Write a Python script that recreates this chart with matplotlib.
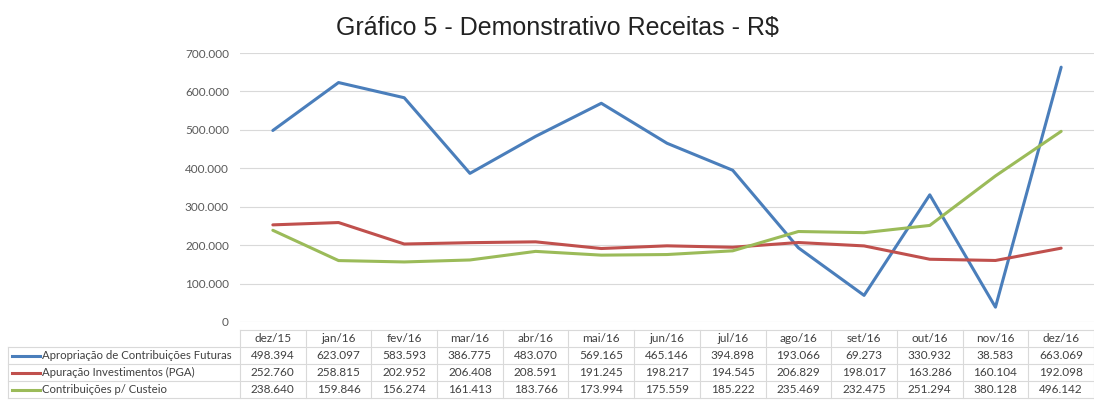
import matplotlib
matplotlib.use("Agg")
import matplotlib.pyplot as plt
from matplotlib.transforms import blended_transform_factory
from matplotlib.lines import Line2D

months = ["dez/15", "jan/16", "fev/16", "mar/16", "abr/16", "mai/16", "jun/16",
          "jul/16", "ago/16", "set/16", "out/16", "nov/16", "dez/16"]
apropriacao = [498394, 623097, 583593, 386775, 483070, 569165, 465146,
               394898, 193066, 69273, 330932, 38583, 663069]
apuracao = [252760, 258815, 202952, 206408, 208591, 191245, 198217,
            194545, 206829, 198017, 163286, 160104, 192098]
contribuicoes = [238640, 159846, 156274, 161413, 183766, 173994, 175559,
                 185222, 235469, 232475, 251294, 380128, 496142]
series_names = ["Apropriação de Contribuições Futuras",
                "Apuração Investimentos (PGA)",
                "Contribuições p/ Custeio"]
series_values = [apropriacao, apuracao, contribuicoes]
colors = ["#4A7EBB", "#C0504D", "#9BBB59"]
yticks = [0, 100000, 200000, 300000, 400000, 500000, 600000, 700000]

def fmt(v):
    return f"{v:,}".replace(",", ".")

W, H = 1094, 400
fig = plt.figure(figsize=(W / 100, H / 100), dpi=100)
ax = fig.add_axes([240 / W, 1 - 322 / H, (1094 - 240) / W, (322 - 53) / H])

x = list(range(len(months)))
for vals, c in zip(series_values, colors):
    ax.plot(x, vals, color=c, lw=2.2, solid_capstyle="round", zorder=3)

ax.set_xlim(-0.5, len(months) - 0.5)
ax.set_ylim(0, 700000)
ax.set_yticks(yticks)
ax.set_yticklabels([fmt(v) for v in yticks], fontsize=8.5, color="#595959",
                   family="Lato")
ax.set_xticks([])
ax.grid(axis="y", color="#D9D9D9", lw=0.8)
ax.set_axisbelow(True)
for s in ax.spines.values():
    s.set_visible(False)
ax.tick_params(axis="y", length=0, pad=8)

fig.text(557 / W, 1 - 28 / H, "Gráfico 5 - Demonstrativo Receitas - R$",
         ha="center", va="center", fontsize=18, family="Liberation Sans",
         color="#222222")

# data table
tr = blended_transform_factory(ax.transData, fig.transFigure)
px = lambda yp: 1 - yp / H
row_lines = [330, 347, 364, 381, 398]
row_centers = [338, 355.5, 372.5, 389.5]
gc = "#D9D9D9"
fs = 8.5

fig.add_artist(Line2D([-0.5, len(months) - 0.5], [px(row_lines[0])] * 2,
                      transform=tr, color=gc, lw=0.8))
for yl in row_lines[1:]:
    fig.add_artist(Line2D([8 / W, 1.0], [px(yl)] * 2,
                          transform=fig.transFigure, color=gc, lw=0.8))
for i in range(len(months) + 1):
    xv = i - 0.5
    fig.add_artist(Line2D([xv, xv], [px(row_lines[0]), px(row_lines[-1])],
                          transform=tr, color=gc, lw=0.8))
fig.add_artist(Line2D([8 / W, 8 / W], [px(row_lines[1]), px(row_lines[-1])],
                      transform=fig.transFigure, color=gc, lw=0.8))

for i, m in enumerate(months):
    fig.text(i, px(row_centers[0]), m, transform=tr, ha="center", va="center",
             fontsize=fs, family="Lato", color="#404040")
for r, (name, vals, c) in enumerate(zip(series_names, series_values, colors)):
    yc = px(row_centers[r + 1])
    fig.add_artist(Line2D([12 / W, 40 / W], [yc, yc], transform=fig.transFigure,
                          color=c, lw=2.2))
    fig.text(42 / W, yc, name, ha="left", va="center", fontsize=8.2,
             family="Lato", color="#404040")
    for i, v in enumerate(vals):
        fig.text(i, yc, fmt(v), transform=tr, ha="center", va="center",
                 fontsize=fs, family="Lato", color="#404040")

fig.savefig("out.png", dpi=100, facecolor="white")
